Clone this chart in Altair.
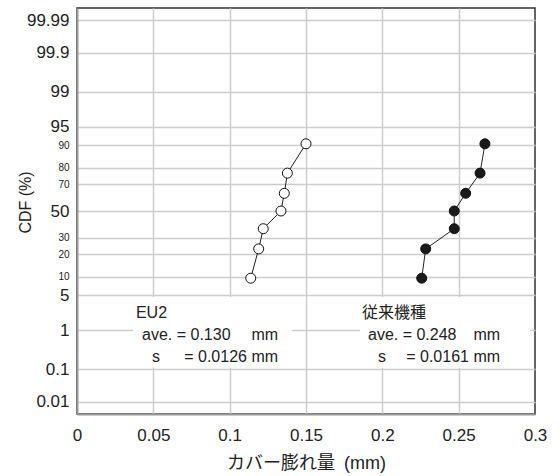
import json
from statistics import NormalDist

import altair as alt
import pandas as pd

# ---------------- data ----------------
series_names = ["EU2", "従来機種"]
cdf_pct = [9.5, 23.0, 36.5, 50.0, 63.5, 77.0, 90.5]
eu2_x = [0.1138, 0.1190, 0.1220, 0.1336, 0.1358, 0.1378, 0.1500]
conv_x = [0.2258, 0.2284, 0.2471, 0.2471, 0.2546, 0.2640, 0.2672]

y_tick_pct = [0.01, 0.1, 1, 5, 10, 20, 30, 50, 70, 80, 90, 95, 99, 99.9, 99.99]
y_tick_labels = ["0.01", "0.1", "1", "5", "10", "20", "30", "50",
                 "70", "80", "90", "95", "99", "99.9", "99.99"]
x_tick_vals = [0, 0.05, 0.1, 0.15, 0.2, 0.25, 0.3]
x_tick_labels = ["0", "0.05", "0.1", "0.15", "0.2", "0.25", "0.3"]

# annotation texts
ann_left_text = ["EU2", "ave. = 0.130", "s", "従来機種", "ave. = 0.248", "s"]
ann_right_text = ["mm", "= 0.0126 mm", "mm", "= 0.0161 mm"]

# ---------------- layout constants (data units) ----------------
Z_LIM = 3.96
ann_left_x = [0.0386, 0.0426, 0.0491, 0.1867, 0.1906, 0.1972]
ann_left_z = [-1.99, -2.42, -2.85, -1.99, -2.42, -2.85]
ann_right_x = [0.1317, 0.1317, 0.2771, 0.2771]
ann_right_z = [-2.42, -2.85, -2.42, -2.85]
box_x = [0.0367, 0.1854]
box_x2 = [0.1408, 0.2967]
box_z = [-1.68, -1.68]
box_z2 = [-3.06, -3.06]

nd = NormalDist()
y_tick_z = [round(nd.inv_cdf(p / 100.0), 6) for p in y_tick_pct]

pts = pd.DataFrame({
    "series": [series_names[0]] * len(cdf_pct) + [series_names[1]] * len(cdf_pct),
    "x": eu2_x + conv_x,
    "cdf": cdf_pct + cdf_pct,
})
boxes = pd.DataFrame({"x": box_x, "x2": box_x2, "z": box_z, "z2": box_z2})
ann_l = pd.DataFrame({"x": ann_left_x, "z": ann_left_z, "t": ann_left_text})
ann_r = pd.DataFrame({"x": ann_right_x, "z": ann_right_z, "t": ann_right_text})

FONT = "Liberation Sans, Arial, 'Noto Sans CJK JP'"

x_axis = alt.Axis(
    values=x_tick_vals,
    labelExpr=f"{json.dumps(x_tick_labels)}[indexof({json.dumps(x_tick_vals)}, datum.value)]",
    ticks=False,
    domainColor="#999999",
    domainWidth=2,
    grid=True,
    gridColor={"condition": {"test": "datum.value <= 0.001 || datum.value >= 0.299",
                             "value": "transparent"}, "value": "#cccccc"},
    gridWidth=1.5,
    labelFontSize=17,
    labelPadding=13,
    labelFlush=False,
    labelOverlap=False,
    labelColor="#222222",
    title="カバー膨れ量\u2002(mm)",
    titleFontSize=18,
    titleFontWeight="normal",
    titleColor="#222222",
    titleY=49,
    titleBaseline="middle",
)
y_axis = alt.Axis(
    values=y_tick_z,
    labelExpr=f"{json.dumps(y_tick_labels)}[indexof({json.dumps(y_tick_z)}, datum.value)]",
    labelFontSize={"condition": {"test": "abs(datum.value) > 0.1 && abs(datum.value) < 1.5",
                                 "value": 10}, "value": 17},
    ticks=False,
    domainColor="#999999",
    domainWidth=2,
    grid=True,
    gridColor="#cccccc",
    gridWidth=1.5,
    labelPadding=8,
    labelOverlap=False,
    labelFlush=False,
    labelColor="#222222",
    title="CDF (%)",
    titleFontSize=16,
    titleFontWeight="normal",
    titleColor="#222222",
    titleX=-52,
    titleY=194,
    titleBaseline="middle",
    titleAlign="center",
)

X = alt.X("x:Q", scale=alt.Scale(domain=[0, 0.3], nice=False, zero=False), axis=x_axis)
Y = alt.Y("z:Q", scale=alt.Scale(domain=[-Z_LIM, Z_LIM], nice=False, zero=False), axis=y_axis)

base_pts = alt.Chart(pts).transform_calculate(z="quantileNormal(datum.cdf / 100)")

lines = base_pts.mark_line(color="#222222", strokeWidth=1).encode(
    x=X, y=Y, detail="series:N", order="cdf:Q"
)
points = base_pts.mark_point(shape="circle", size=100, strokeWidth=1, stroke="#111111",
                             opacity=1).encode(
    x=X, y=Y,
    fill=alt.Fill("series:N", scale=alt.Scale(domain=series_names,
                                               range=["#ffffff", "#1a1a1a"]), legend=None),
)
rects = alt.Chart(boxes).mark_rect(color="white").encode(
    x=X, x2="x2:Q", y=Y, y2="z2:Q"
)
texts_l = alt.Chart(ann_l).mark_text(align="left", baseline="middle", fontSize=16,
                                     font=FONT, color="#222222").encode(x=X, y=Y, text="t:N")
texts_r = alt.Chart(ann_r).mark_text(align="right", baseline="middle", fontSize=16,
                                     font=FONT, color="#222222").encode(x=X, y=Y, text="t:N")

chart = (
    alt.layer(rects, lines, points, texts_l, texts_r)
    .properties(width=458, height=406,
                padding={"left": 77, "top": 8, "right": 25, "bottom": 62},
                autosize="none", background="white")
    .configure_view(stroke="#333333", strokeWidth=1.5)
    .configure_axis(labelFont=FONT, titleFont=FONT)
)

chart.save("out.html", embed_options={"renderer": "svg", "actions": False})
